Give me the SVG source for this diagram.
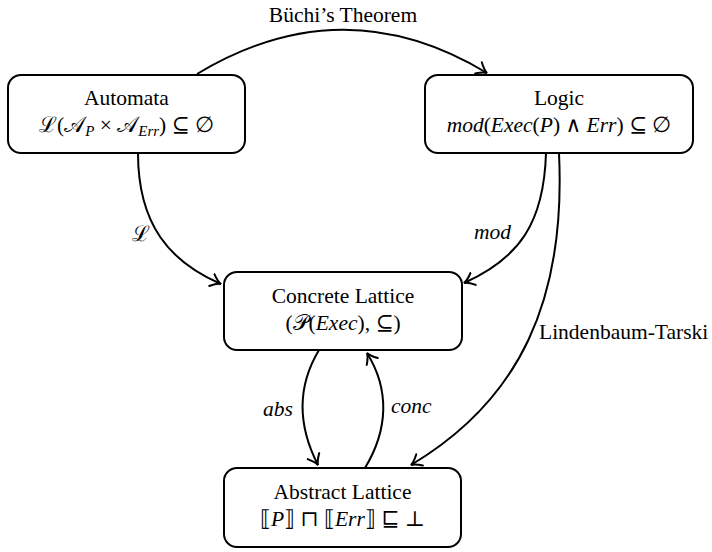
<svg xmlns="http://www.w3.org/2000/svg" width="712" height="552" viewBox="0 0 712 552">
<style>
.box{fill:#fff;stroke:#000;stroke-width:2}
.t{font-family:"Liberation Serif","DejaVu Serif",serif;font-size:21.5px;fill:#000;text-anchor:middle}
.l{font-family:"Liberation Serif","DejaVu Serif",serif;font-size:21.5px;fill:#000}
.i{font-style:italic}
.s{font-size:15px}
.e{fill:none;stroke:#000;stroke-width:2}
</style>
<defs>
<marker id="ar" markerUnits="userSpaceOnUse" markerWidth="20" markerHeight="20" refX="1" refY="0" viewBox="-10 -10 20 20" orient="auto">
<path d="M-9,-6.5 Q-3,-1 1,0 Q-3,1 -9,6.5" fill="none" stroke="#000" stroke-width="2" stroke-linecap="round"/>
</marker>
</defs>
<g id="connectors">
<path class="e" d="M197,74 Q343,-14 487,73" marker-end="url(#ar)"/>
<text class="t" x="343" y="22">Büchi’s Theorem</text>
<path class="e" d="M138,153 C138,225 170,262 221,284" marker-end="url(#ar)"/>
<text class="l" x="132" y="241">ℒ</text>
<path class="e" d="M546,153 C544,222 520,258 464,283" marker-end="url(#ar)"/>
<text class="l i" x="474" y="239">mod</text>
<path class="e" d="M559,153 C566,300 520,400 411,465" marker-end="url(#ar)"/>
<text class="l" x="539" y="339">Lindenbaum-Tarski</text>
<path class="e" d="M319,350 C295,390 300,430 318,465" marker-end="url(#ar)"/>
<text class="l i" x="263" y="416">abs</text>
<path class="e" d="M365,468 C388,430 390,390 367,353" marker-end="url(#ar)"/>
<text class="l i" x="391" y="413">conc</text>
</g>
<g id="automata">
<rect class="box" x="8" y="75" width="237" height="78" rx="13"/>
<text class="t" x="126.5" y="105">Automata</text>
<text class="t" x="126.5" y="132">ℒ(𝒜<tspan class="i s" dy="4">P</tspan><tspan dy="-4"> × 𝒜</tspan><tspan class="i s" dy="4">Err</tspan><tspan dy="-4">) ⊆ ∅</tspan></text>
</g>
<g id="logic">
<rect class="box" x="425" y="75" width="268" height="78" rx="13"/>
<text class="t" x="559" y="105">Logic</text>
<text class="t" x="559" y="132"><tspan class="i">mod</tspan>(<tspan class="i">Exec</tspan>(<tspan class="i">P</tspan>) ∧ <tspan class="i">Err</tspan>) ⊆ ∅</text>
</g>
<g id="concrete">
<rect class="box" x="224" y="272" width="238" height="78" rx="13"/>
<text class="t" x="343" y="303">Concrete Lattice</text>
<text class="t" x="343" y="330">(𝒫(<tspan class="i">Exec</tspan>), ⊆)</text>
</g>
<g id="abstract">
<rect class="box" x="224" y="468" width="237" height="79" rx="13"/>
<text class="t" x="342.5" y="499">Abstract Lattice</text>
<text class="t" x="342.5" y="526">⟦<tspan class="i">P</tspan>⟧ ⊓ ⟦<tspan class="i">Err</tspan>⟧ ⊑ ⊥</text>
</g>
</svg>
